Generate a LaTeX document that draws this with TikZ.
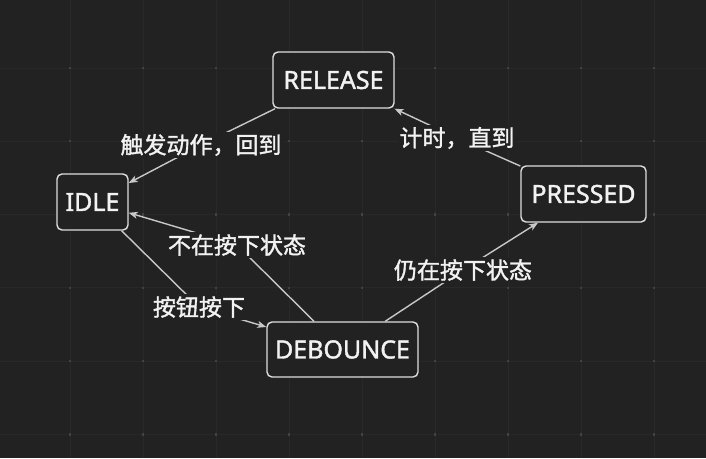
\documentclass[tikz,border=0pt]{standalone}
\usepackage{fontspec}
\setmainfont{Noto Sans}
\newfontfamily\latfont[FakeBold=1.5]{Noto Sans}
\newfontfamily\cjkfont[FakeBold=1.5]{Noto Sans CJK SC}
\usetikzlibrary{arrows.meta}
\definecolor{bgc}{RGB}{34,34,34}
\definecolor{gridc}{RGB}{41,41,41}
\definecolor{dotc}{RGB}{66,66,66}
\definecolor{linec}{RGB}{200,200,200}
\definecolor{boxc}{RGB}{222,222,222}
\definecolor{txtc}{RGB}{242,242,242}
\tikzset{
  state/.style={draw=boxc, line width=1.4pt, rounded corners=5pt, fill=bgc,
    text=txtc, font=\latfont\fontsize{25}{30}\selectfont, inner sep=0pt},
  lab/.style={fill=bgc, text=txtc, font=\cjkfont\fontsize{23}{26}\selectfont,
    inner xsep=2pt, inner ysep=0pt, minimum height=26pt},
  edge/.style={draw=linec, line width=1.4pt,
    -{Stealth[length=9pt,width=7pt,inset=2.5pt]}},
}
\begin{document}
\begin{tikzpicture}[x=1pt,y=-1pt]
\useasboundingbox (0,0) rectangle (706,458);
\fill[bgc] (0,0) rectangle (706,458);
% grid
\foreach \i in {0,...,9} {
  \draw[gridc, line width=1pt] ({-3+73*\i},0) -- ({-3+73*\i},458);
}
\foreach \j in {0,...,6} {
  \draw[gridc, line width=1pt] (0,{-5.27+73.27*\j}) -- (706,{-5.27+73.27*\j});
}
\foreach \i in {0,...,9} {
  \foreach \j in {0,...,6} {
    \fill[dotc] ({-3+73*\i-1.2},{-5.27+73.27*\j-1.2}) rectangle ++(2.4,2.4);
  }
}
% states
\node[state, minimum width=121pt, minimum height=56pt] (rel) at (333.5,80) {RELEASE};
\node[state, minimum width=71pt, minimum height=56pt] (idle) at (92.5,202) {IDLE};
\node[state, minimum width=125pt, minimum height=56pt] (pre) at (583.5,194) {PRESSED};
\node[state, minimum width=151pt, minimum height=55pt] (deb) at (342.5,349.5) {DEBOUNCE};
% label positions
\coordinate (c1) at (201,145);
\coordinate (c2) at (237,245);
\coordinate (c3) at (199,307);
\coordinate (c4) at (463,270);
\coordinate (c5) at (457,138);
% edges
\draw[edge] (rel) -- (c1) -- (idle);
\draw[edge] (deb) -- (c2) -- (idle);
\draw[edge] (idle) -- (c3) -- (deb);
\draw[edge] (deb) -- (c4) -- (pre);
\draw[edge] (pre) -- (c5) -- (rel);
% labels
\node[lab] (t1) at (c1) {触发动作，回到};
\node[lab] (t2) at (c2) {不在按下状态};
\node[lab] (t3) at (c3) {按钮按下};
\node[lab] (t4) at (c4) {仍在按下状态};
\node[lab] (t5) at (c5) {计时，直到};
\end{tikzpicture}
\end{document}
